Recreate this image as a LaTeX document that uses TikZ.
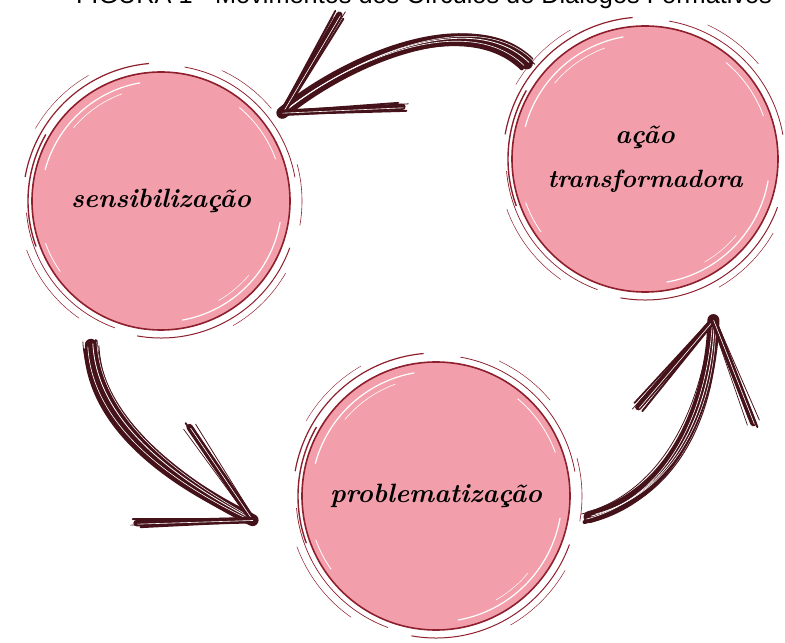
\documentclass[tikz,border=0pt]{standalone}
\usepackage{fontspec}
\newfontfamily\titlefont{Liberation Sans}
\usetikzlibrary{calc}
\definecolor{rosa}{HTML}{F29FAB}
\definecolor{vinho}{HTML}{8E1F2C}
\definecolor{pincel}{HTML}{45121A}
\begin{document}
\begin{tikzpicture}[x=1pt, y=1pt,
	circ/.style={ circle, fill=rosa, draw=vinho, line width=1.6pt, inner sep=0pt, align=center, font=\fontsize{26.5}{45}\selectfont\bfseries\itshape },
	brush/.style={ line cap=round, line join=round }
]
\useasboundingbox (0,0) rectangle (785,643);

\node[font=\titlefont\fontsize{25.3}{28}\selectfont, anchor=base] at (424,639.5) (title) {FIGURA 1 - Movimentos dos Círculos de Diálogos Formativos};

\node[circ, minimum size=258pt] at (161,442) (sens) {sensibilização};
\node[circ, minimum size=266pt] at (645,484) (acao) {ação\\[-1pt]{\fontsize{25}{45}\selectfont transformadora}};
\node[circ, minimum size=268pt] at (436,147) (prob) {problematização};

\foreach \n/\rad in {sens/129, acao/133, prob/134} {
	\foreach \a/\b/\off/\w in {10/80/7/0.8, 95/170/9/1.2, 185/250/6/0.7, 200/235/14/0.5, 260/340/8/1.0, 300/330/15/0.5, 350/375/12/0.6, 120/150/16/0.4, 40/65/15/0.5, 150/200/4/1.4}
		\draw[vinho, line width=\w pt] ($(\n)+(\a:{\rad+\off})$) arc[start angle=\a, end angle=\b, radius={\rad+\off}];
	\foreach \a/\b/\off/\w in {100/165/9/1.2, 110/140/15/0.6, 280/350/8/1.2, 200/215/6/0.8, 20/50/7/0.8, 300/320/14/0.5}
		\draw[white, line width=\w pt] ($(\n)+(\a:{\rad-\off})$) arc[start angle=\a, end angle=\b, radius={\rad-\off}];
}

\coordinate (t1) at ($(acao)+(141:152)$);
\coordinate (h1) at ($(sens)+(36:150)$);
\coordinate (c1a) at (470,635);
\coordinate (c1b) at (350,585);
\coordinate (e1l) at ($(h1)+(57,98)$);
\coordinate (e1r) at ($(h1)+(120,6)$);

\coordinate (t2) at ($(sens)+(-116:160)$);
\coordinate (h2) at ($(prob)+(187.5:185)$);
\coordinate (c2a) at (95,220);
\coordinate (c2b) at (173,163);
\coordinate (e2l) at ($(h2)+(-63,93)$);
\coordinate (e2r) at ($(h2)+(-116,-3)$);

\coordinate (t3) at ($(prob)+(-7.8:155)$);
\coordinate (h3) at ($(acao)+(-67:175)$);
\coordinate (c3a) at (680,150);
\coordinate (c3b) at (712,250);
\coordinate (e3l) at ($(h3)+(-75,-87)$);
\coordinate (e3r) at ($(h3)+(40,-103)$);

\foreach \t/\ca/\cb/\h in {t1/c1a/c1b/h1, t2/c2a/c2b/h2, t3/c3a/c3b/h3}
	\foreach \dx/\dy/\w/\c in {0/0/12/pincel, 5/4/3.5/pincel, -5/-5/4/pincel, 8/-1/1/pincel, -8/3/0.8/pincel, 2/1/0.8/white, -3/-2/0.6/white, 6/3/0.5/white}
		\draw[brush, \c, line width=\w pt] ($(\t)+(\dx,\dy)$) .. controls ($(\ca)+(\dx,\dy)$) and ($(\cb)+(\dx,\dy)$) .. ($(\h)+(\dx/3,\dy/3)$);

\foreach \h/\e in {h1/e1l, h1/e1r, h2/e2l, h2/e2r, h3/e3l, h3/e3r}
	\foreach \dx/\dy/\w/\c in {0/0/6.5/pincel, 4/-4/2/pincel, -4/4/1.8/pincel, 6/3/0.8/pincel, -6/-2/0.7/pincel, 1/-1/0.6/white}
		\draw[brush, \c, line width=\w pt] ($(\h)+(\dx/3,\dy/3)$) -- ($(\e)+(\dx,\dy)$);

\end{tikzpicture}
\end{document}
